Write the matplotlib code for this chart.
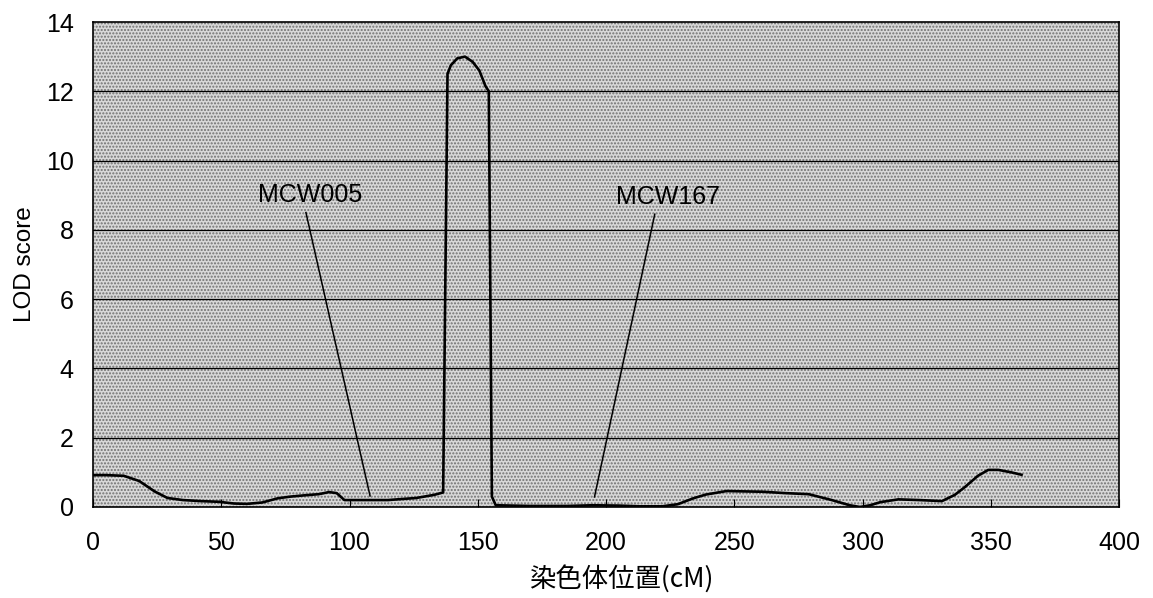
import matplotlib.pyplot as plt
from matplotlib.patches import Rectangle

plt.rcParams['font.family'] = ['Liberation Sans', 'Noto Sans CJK JP', 'DejaVu Sans']
plt.rcParams['hatch.linewidth'] = 1.0

# LOD profile
pos_cm = [0, 5, 12, 18, 24, 29, 35, 42, 49, 55, 60, 66, 72, 77, 83, 88, 92, 95,
          98, 106, 115, 126, 133, 136.5, 138.2, 139.5, 142, 145, 148, 150.6,
          153, 154.3, 155.5, 157, 170, 185, 195, 205, 213, 222, 228, 234, 239,
          247, 261, 270, 279, 288, 295, 299, 303, 307, 314, 322, 331, 336, 340,
          345, 349, 353, 358, 362]
lod = [0.92, 0.92, 0.9, 0.75, 0.45, 0.26, 0.2, 0.17, 0.15, 0.1, 0.09, 0.13,
       0.25, 0.3, 0.34, 0.37, 0.43, 0.4, 0.2, 0.2, 0.2, 0.26, 0.35, 0.42, 12.5,
       12.75, 12.95, 13.0, 12.85, 12.6, 12.15, 12.0, 0.3, 0.05, 0.03, 0.03,
       0.05, 0.04, 0.02, 0.02, 0.08, 0.25, 0.36, 0.46, 0.44, 0.4, 0.37, 0.2,
       0.05, 0.0, 0.05, 0.14, 0.22, 0.2, 0.17, 0.35, 0.58, 0.9, 1.07, 1.07,
       1.0, 0.93]

# markers: name, label position, pointer end
marker_names = ['MCW005', 'MCW167']
label_xy = [(84.5, 9.0), (224, 8.95)]
pointer_start = [(83, 8.5), (219, 8.45)]
pointer_end = [(108, 0.32), (195.5, 0.29)]

fig = plt.figure(figsize=(11.53, 5.98), dpi=100)
ax = fig.add_axes([0.0807, 0.1522, 0.8898, 0.811])

ax.set_xlim(0, 400)
ax.set_ylim(0, 14)
ax.set_facecolor('#d8d8d8')
ax.add_patch(Rectangle((0, 0), 400, 14, facecolor='none', edgecolor='#707070',
                       hatch='.....', linewidth=0, zorder=0))

for yv in range(2, 14, 2):
    ax.axhline(yv, color='black', linewidth=0.9, zorder=1)

ax.plot(pos_cm, lod, color='black', linewidth=1.9, zorder=3)

for name, (lx, ly), (sx, sy), (ex, ey) in zip(marker_names, label_xy, pointer_start, pointer_end):
    ax.text(lx, ly, name, fontsize=18, ha='center', va='center', zorder=4)
    ax.plot([sx, ex], [sy, ey], color='black', linewidth=1.1, zorder=3)

ax.set_xticks(range(0, 401, 50))
ax.set_yticks(range(0, 15, 2))
ax.tick_params(axis='x', direction='in', length=6, pad=17, labelsize=18)
ax.tick_params(axis='y', direction='in', length=0, pad=14, labelsize=18)
for s in ax.spines.values():
    s.set_linewidth(1.2)

ax.set_ylabel('LOD score', fontsize=17.5)
ax.yaxis.set_label_coords(-0.056, 0.5)
ax.set_xlabel('染色体位置(cM)', fontsize=19,
              family=['Noto Sans CJK JP', 'DejaVu Sans'])
ax.xaxis.set_label_coords(0.515, -0.12)

fig.savefig('out.png', dpi=100)
